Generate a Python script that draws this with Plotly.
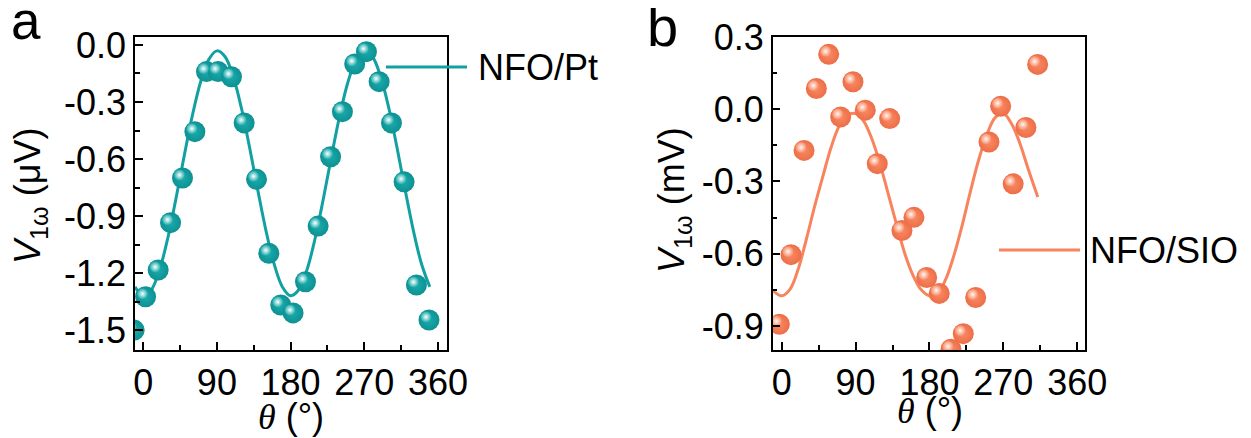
import plotly.graph_objects as go

# ---------------- data ----------------
# Panel a : NFO/Pt
theta_a = [-11, 2.9, 18.3, 33.4, 48.0, 63.1, 77.3, 91.5, 107.8, 123.3, 138.4, 153.4,
           168.0, 183.0, 198.2, 213.6, 228.8, 243.3, 258.3, 272.6, 288.1, 303.2,
           318.6, 333.7, 349.0]
v_a = [-1.50, -1.325, -1.184, -0.935, -0.70, -0.456, -0.14, -0.14, -0.167, -0.41,
       -0.707, -1.096, -1.368, -1.41, -1.246, -0.953, -0.588, -0.351, -0.10, -0.035,
       -0.193, -0.41, -0.72, -1.263, -1.447]
fit_theta_a = [-10, 0, 10, 20, 30, 40, 50, 60, 70, 80, 90, 100, 110, 120, 130, 140,
               150, 160, 170, 180, 190, 200, 210, 220, 230, 240, 250, 260, 270, 280,
               290, 300, 310, 320, 330, 340, 350]
fit_v_a = [-1.273, -1.319, -1.288, -1.183, -1.017, -0.809, -0.585, -0.372, -0.196,
           -0.077, -0.031, -0.062, -0.167, -0.333, -0.541, -0.765, -0.978, -1.154,
           -1.273, -1.319, -1.288, -1.183, -1.017, -0.809, -0.585, -0.372, -0.196,
           -0.077, -0.031, -0.062, -0.167, -0.333, -0.541, -0.765, -0.978, -1.154,
           -1.273]

# Panel b : NFO/SIO
theta_b = [-2.9, 11.3, 27.2, 42.2, 57.2, 71.8, 86.8, 101.8, 116.4, 131.5, 146.5,
           161.1, 176.6, 191.9, 206.2, 221.2, 236.3, 252.5, 266.7, 282.0, 297.5, 311.8]
v_b = [-0.893, -0.604, -0.171, 0.086, 0.228, -0.032, 0.114, -0.004, -0.226, -0.039,
       -0.504, -0.449, -0.699, -0.765, -0.997, -0.932, -0.782, -0.136, 0.0125, -0.31,
       -0.076, 0.186]
fit_theta_b = [-10, 0, 10, 20, 30, 40, 50, 60, 70, 80, 90, 100, 110, 120, 130, 140,
               150, 160, 170, 180, 190, 200, 210, 220, 230, 240, 250, 260, 270, 280,
               290, 300, 312]
fit_v_b = [-0.755, -0.775, -0.748, -0.665, -0.54, -0.405, -0.28, -0.16, -0.07, -0.025,
           -0.018, -0.05, -0.125, -0.23, -0.355, -0.48, -0.60, -0.69, -0.75, -0.775,
           -0.765, -0.705, -0.605, -0.48, -0.34, -0.21, -0.105, -0.035, -0.018, -0.06,
           -0.14, -0.245, -0.365]

# tick labels
x_ticks = [0, 90, 180, 270, 360]
x_ticktext = ["0", "90", "180", "270", "360"]
x_minor = [45, 135, 225, 315]
y_ticks_a = [0.0, -0.3, -0.6, -0.9, -1.2, -1.5]
y_ticktext_a = ["0.0", "-0.3", "-0.6", "-0.9", "-1.2", "-1.5"]
y_minor_a = [-0.15, -0.45, -0.75, -1.05, -1.35]
y_ticks_b = [0.3, 0.0, -0.3, -0.6, -0.9]
y_ticktext_b = ["0.3", "0.0", "-0.3", "-0.6", "-0.9"]
y_minor_b = [0.15, -0.15, -0.45, -0.75]

legend_a = "NFO/Pt"
legend_b = "NFO/SIO"
x_title = '<span style="font-family:Liberation Serif"><i>θ</i></span> (°)'
y_title_a = "<i>V</i><sub>1ω</sub> (μV)"
y_title_b = "<i>V</i><sub>1ω</sub> (mV)"

# ---------------- styling ----------------
TEAL, TEAL_EDGE, TEAL_BODY = "#12a0a2", "#0e9193", "#1aabab"
ORANGE, ORANGE_EDGE, ORANGE_BODY = "#f8845e", "#ec6e48", "#f98a64"
FONT = "Liberation Sans, Arial, sans-serif"
FS = 36
OFF = 8                      # default page body margin in the browser
W, H = 1251 - OFF, 438 - OFF  # figure size so the page fills the window
TOP, BOT = 37, 350           # plot area top / bottom in window px
XA = (135, 447)              # panel a plot area, window px
XB = (772.7, 1085)           # panel b plot area, window px
RX_A, RY_A = [-10, 371], [-1.605, 0.042]
RX_B, RY_B = [-11, 369.5], [-1.0, 0.3]
HL_SHIFT = 3                 # highlight offset (px) toward upper-left

def px_x(p):
    return (p - OFF) / W

def px_y(p):
    # paper y for window pixel row p (paper spans the plot area TOP..BOT)
    return (BOT - p) / (BOT - TOP)

def shifted(rng, span_px, shift_px):
    d = (rng[1] - rng[0]) / span_px * shift_px
    return [rng[0] + d, rng[1] + d]

fig = go.Figure()

def add_panel(xs, ys, fx, fy, line_c, edge_c, body_c, hl_c, xa, ya, xh, yh):
    fig.add_trace(go.Scatter(x=fx, y=fy, mode="lines", line_shape="spline",
                             line=dict(color=line_c, width=3), showlegend=False,
                             xaxis=xa, yaxis=ya))
    fig.add_trace(go.Scatter(x=xs, y=ys, mode="markers", showlegend=False,
                             marker=dict(size=21, color=edge_c, line=dict(width=0),
                                         gradient=dict(type="radial", color=body_c)),
                             xaxis=xa, yaxis=ya))
    fig.add_trace(go.Scatter(x=xs, y=ys, mode="markers", showlegend=False,
                             hoverinfo="skip",
                             marker=dict(size=11, color=body_c, line=dict(width=0),
                                         gradient=dict(type="radial", color=hl_c)),
                             xaxis=xh, yaxis=yh))

add_panel(theta_a, v_a, fit_theta_a, fit_v_a, TEAL, TEAL_EDGE, TEAL_BODY, "#ffffff",
          "x", "y", "x3", "y3")
add_panel(theta_b, v_b, fit_theta_b, fit_v_b, ORANGE, ORANGE_EDGE, ORANGE_BODY,
          "#fff6f2", "x2", "y2", "x4", "y4")

axis_common = dict(showline=True, linecolor="black", linewidth=1.5, mirror=True,
                   ticks="inside", ticklen=8, tickwidth=1.5, tickcolor="black",
                   showgrid=False, zeroline=False, automargin=False,
                   tickfont=dict(family=FONT, size=FS, color="black"))
minor_common = dict(ticks="inside", ticklen=5, tickwidth=1.5, tickcolor="black",
                    showgrid=False)
hidden = dict(visible=False, showgrid=False, zeroline=False, automargin=False)

fig.update_layout(
    width=W, height=H,
    margin=dict(l=0, r=0, t=TOP - OFF, b=H - (BOT - OFF), pad=0),
    paper_bgcolor="white", plot_bgcolor="white", showlegend=False,
    xaxis=dict(domain=[px_x(XA[0]), px_x(XA[1])], range=RX_A, anchor="y",
               tickvals=x_ticks, ticktext=x_ticktext,
               minor=dict(tickvals=x_minor, **minor_common), **axis_common),
    yaxis=dict(domain=[0, 1], range=RY_A, anchor="x",
               tickvals=y_ticks_a, ticktext=y_ticktext_a,
               minor=dict(tickvals=y_minor_a, **minor_common), **axis_common),
    xaxis2=dict(domain=[px_x(XB[0]), px_x(XB[1])], range=RX_B, anchor="y2",
                tickvals=x_ticks, ticktext=x_ticktext,
                minor=dict(tickvals=x_minor, **minor_common), **axis_common),
    yaxis2=dict(domain=[0, 1], range=RY_B, anchor="x2",
                tickvals=y_ticks_b, ticktext=y_ticktext_b,
                minor=dict(tickvals=y_minor_b, **minor_common), **axis_common),
    # overlay axes that carry the sphere highlights, offset a few px up-left
    xaxis3=dict(overlaying="x", anchor="y3",
                range=shifted(RX_A, XA[1] - XA[0], HL_SHIFT), **hidden),
    yaxis3=dict(overlaying="y", anchor="x3",
                range=shifted(RY_A, BOT - TOP, -HL_SHIFT), **hidden),
    xaxis4=dict(overlaying="x2", anchor="y4",
                range=shifted(RX_B, XB[1] - XB[0], HL_SHIFT), **hidden),
    yaxis4=dict(overlaying="y2", anchor="x4",
                range=shifted(RY_B, BOT - TOP, -HL_SHIFT), **hidden),
)

def text(t, x, y, size=FS, angle=0, xanchor="center"):
    fig.add_annotation(text=t, xref="paper", yref="paper", x=px_x(x), y=px_y(y),
                       xanchor=xanchor, yanchor="middle", showarrow=False,
                       textangle=angle,
                       font=dict(family=FONT, size=size, color="black"))

# axis titles
text(x_title, 291, 416)
text(x_title, 930, 410)
text(y_title_a, 30, 196, angle=-90)
text(y_title_b, 674, 200, angle=-90)

# legend samples (decoration)
fig.add_shape(type="line", xref="paper", yref="paper",
              x0=px_x(386), x1=px_x(467), y0=px_y(67), y1=px_y(67),
              line=dict(color=TEAL, width=3))
text(legend_a, 476, 67, xanchor="left")
fig.add_shape(type="line", xref="paper", yref="paper",
              x0=px_x(999), x1=px_x(1080), y0=px_y(250), y1=px_y(250),
              line=dict(color=ORANGE, width=3))
text(legend_b, 1088, 250, xanchor="left")

# panel labels
text("a", 9, 20, size=53, xanchor="left")
text("b", 645, 26, size=56, xanchor="left")

fig.write_html("out.html")
